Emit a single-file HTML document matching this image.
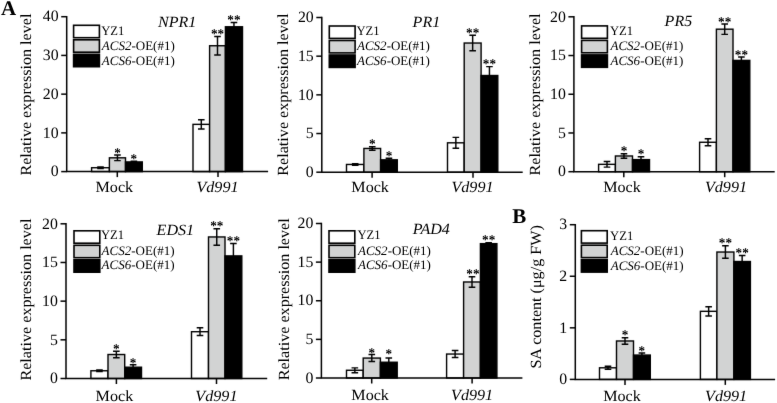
<!DOCTYPE html>
<html><head><meta charset="utf-8"><title>Figure</title>
<style>
html,body{margin:0;padding:0;background:#fff;}
svg{display:block;}
text{font-family:"Liberation Serif", "DejaVu Serif", serif;fill:#000;text-rendering:geometricPrecision;}
.st{font-weight:bold;}
.pl{font-weight:bold;}
</style></head><body>
<svg width="777" height="403" viewBox="0 0 777 403">
<defs><filter id="soft" color-interpolation-filters="sRGB" x="0" y="0" width="777" height="403" filterUnits="userSpaceOnUse"><feConvolveMatrix order="3" kernelMatrix="0.0052 0.0619 0.0052 0.0619 0.7314 0.0619 0.0052 0.0619 0.0052" edgeMode="duplicate" preserveAlpha="true"/></filter><filter id="softt" color-interpolation-filters="sRGB" x="0" y="0" width="777" height="403" filterUnits="userSpaceOnUse"><feConvolveMatrix order="3" kernelMatrix="0.0028 0.0470 0.0028 0.0470 0.8008 0.0470 0.0028 0.0470 0.0028" edgeMode="none" preserveAlpha="false"/></filter></defs>
<rect width="777" height="403" fill="#fff"/>
<g filter="url(#soft)">
<rect width="777" height="403" fill="#fff"/>
<rect x="91.6" y="167.73" width="17.8" height="3.87" fill="#ffffff" stroke="#000" stroke-width="1.4"/>
<rect x="109.4" y="157.81" width="16.1" height="13.79" fill="#d2d3d3" stroke="#000" stroke-width="1.4"/>
<rect x="125.5" y="161.92" width="16.8" height="9.68" fill="#000000" stroke="#000" stroke-width="1.4"/>
<path d="M100.5 168.5V166.95M97.2 166.95H103.8M97.2 168.5H103.8" stroke="#000" stroke-width="1.45" fill="none"/>
<path d="M117.45 160.64V154.99M114.15 154.99H120.75M114.15 160.64H120.75" stroke="#000" stroke-width="1.45" fill="none"/>
<path d="M133.9 161.92V161.34M130.6 161.34H137.2" stroke="#000" stroke-width="1.45" fill="none"/>
<path d="M117.3 171.6v5.5" stroke="#000" stroke-width="1.5"/>
<rect x="193" y="124.36" width="16.6" height="47.24" fill="#ffffff" stroke="#000" stroke-width="1.4"/>
<rect x="209.6" y="45.74" width="15.8" height="125.86" fill="#d2d3d3" stroke="#000" stroke-width="1.4"/>
<rect x="225.4" y="26.77" width="17.1" height="144.83" fill="#000000" stroke="#000" stroke-width="1.4"/>
<path d="M201.3 129V119.71M198 119.71H204.6M198 129H204.6" stroke="#000" stroke-width="1.45" fill="none"/>
<path d="M217.5 55.04V36.45M214.2 36.45H220.8M214.2 55.04H220.8" stroke="#000" stroke-width="1.45" fill="none"/>
<path d="M233.95 26.77V22.51M230.65 22.51H237.25" stroke="#000" stroke-width="1.45" fill="none"/>
<path d="M218 171.6v5.5" stroke="#000" stroke-width="1.5"/>
<path d="M66.7 15.95V171.6H268.1" stroke="#000" stroke-width="1.5" fill="none"/>
<path d="M61.2 171.6H66.7" stroke="#000" stroke-width="1.5"/>
<path d="M61.2 132.88H66.7" stroke="#000" stroke-width="1.5"/>
<path d="M61.2 94.15H66.7" stroke="#000" stroke-width="1.5"/>
<path d="M61.2 55.42H66.7" stroke="#000" stroke-width="1.5"/>
<path d="M61.2 16.7H66.7" stroke="#000" stroke-width="1.5"/>
<rect x="73.6" y="25.3" width="25.8" height="12.4" fill="#ffffff" stroke="#000" stroke-width="1.6"/>
<rect x="73.6" y="39.8" width="25.8" height="12.4" fill="#d2d3d3" stroke="#000" stroke-width="1.6"/>
<rect x="73.6" y="54.3" width="25.8" height="12.4" fill="#000000" stroke="#000" stroke-width="1.6"/>
<rect x="346.5" y="164.46" width="17.4" height="7.74" fill="#ffffff" stroke="#000" stroke-width="1.4"/>
<rect x="363.9" y="148.45" width="16.7" height="23.75" fill="#d2d3d3" stroke="#000" stroke-width="1.4"/>
<rect x="380.6" y="159.82" width="16.7" height="12.38" fill="#000000" stroke="#000" stroke-width="1.4"/>
<path d="M355.2 165.24V163.69M351.9 163.69H358.5M351.9 165.24H358.5" stroke="#000" stroke-width="1.45" fill="none"/>
<path d="M372.25 150.16V146.75M368.95 146.75H375.55M368.95 150.16H375.55" stroke="#000" stroke-width="1.45" fill="none"/>
<path d="M388.95 159.82V158.28M385.65 158.28H392.25" stroke="#000" stroke-width="1.45" fill="none"/>
<path d="M372.1 172.2v5.5" stroke="#000" stroke-width="1.5"/>
<rect x="447.5" y="142.81" width="16.7" height="29.39" fill="#ffffff" stroke="#000" stroke-width="1.4"/>
<rect x="464.2" y="43.03" width="16.9" height="129.17" fill="#d2d3d3" stroke="#000" stroke-width="1.4"/>
<rect x="481.1" y="75.51" width="16.7" height="96.69" fill="#000000" stroke="#000" stroke-width="1.4"/>
<path d="M455.85 148.22V137.39M452.55 137.39H459.15M452.55 148.22H459.15" stroke="#000" stroke-width="1.45" fill="none"/>
<path d="M472.65 50.76V35.29M469.35 35.29H475.95M469.35 50.76H475.95" stroke="#000" stroke-width="1.45" fill="none"/>
<path d="M489.45 75.51V66.62M486.15 66.62H492.75" stroke="#000" stroke-width="1.45" fill="none"/>
<path d="M473 172.2v5.5" stroke="#000" stroke-width="1.5"/>
<path d="M321.8 16.75V172.2H522.7" stroke="#000" stroke-width="1.5" fill="none"/>
<path d="M316.3 172.2H321.8" stroke="#000" stroke-width="1.5"/>
<path d="M316.3 133.52H321.8" stroke="#000" stroke-width="1.5"/>
<path d="M316.3 94.85H321.8" stroke="#000" stroke-width="1.5"/>
<path d="M316.3 56.17H321.8" stroke="#000" stroke-width="1.5"/>
<path d="M316.3 17.5H321.8" stroke="#000" stroke-width="1.5"/>
<rect x="329.3" y="26" width="25.8" height="12.4" fill="#ffffff" stroke="#000" stroke-width="1.6"/>
<rect x="329.3" y="40.5" width="25.8" height="12.4" fill="#d2d3d3" stroke="#000" stroke-width="1.6"/>
<rect x="329.3" y="55" width="25.8" height="12.4" fill="#000000" stroke="#000" stroke-width="1.6"/>
<rect x="598.6" y="164.34" width="16.8" height="7.36" fill="#ffffff" stroke="#000" stroke-width="1.4"/>
<rect x="615.4" y="155.98" width="17.1" height="15.72" fill="#d2d3d3" stroke="#000" stroke-width="1.4"/>
<rect x="632.5" y="159.62" width="17" height="12.08" fill="#000000" stroke="#000" stroke-width="1.4"/>
<path d="M607 167.13V161.55M603.7 161.55H610.3M603.7 167.13H610.3" stroke="#000" stroke-width="1.45" fill="none"/>
<path d="M623.95 158.22V153.73M620.65 153.73H627.25M620.65 158.22H627.25" stroke="#000" stroke-width="1.45" fill="none"/>
<path d="M641 159.62V156.83M637.7 156.83H644.3" stroke="#000" stroke-width="1.45" fill="none"/>
<path d="M623.8 171.7v5.5" stroke="#000" stroke-width="1.5"/>
<rect x="699.6" y="142.27" width="16.8" height="29.43" fill="#ffffff" stroke="#000" stroke-width="1.4"/>
<rect x="716.4" y="29.19" width="16.6" height="142.51" fill="#d2d3d3" stroke="#000" stroke-width="1.4"/>
<rect x="733" y="60.4" width="16.8" height="111.3" fill="#000000" stroke="#000" stroke-width="1.4"/>
<path d="M708 145.75V138.78M704.7 138.78H711.3M704.7 145.75H711.3" stroke="#000" stroke-width="1.45" fill="none"/>
<path d="M724.7 34.38V24M721.4 24H728M721.4 34.38H728" stroke="#000" stroke-width="1.45" fill="none"/>
<path d="M741.4 60.4V57M738.1 57H744.7" stroke="#000" stroke-width="1.45" fill="none"/>
<path d="M724.7 171.7v5.5" stroke="#000" stroke-width="1.5"/>
<path d="M573.9 16.05V171.7H774.7" stroke="#000" stroke-width="1.5" fill="none"/>
<path d="M568.4 171.7H573.9" stroke="#000" stroke-width="1.5"/>
<path d="M568.4 132.97H573.9" stroke="#000" stroke-width="1.5"/>
<path d="M568.4 94.25H573.9" stroke="#000" stroke-width="1.5"/>
<path d="M568.4 55.53H573.9" stroke="#000" stroke-width="1.5"/>
<path d="M568.4 16.8H573.9" stroke="#000" stroke-width="1.5"/>
<rect x="581.6" y="25.9" width="25.8" height="12.4" fill="#ffffff" stroke="#000" stroke-width="1.6"/>
<rect x="581.6" y="40.4" width="25.8" height="12.4" fill="#d2d3d3" stroke="#000" stroke-width="1.6"/>
<rect x="581.6" y="54.9" width="25.8" height="12.4" fill="#000000" stroke="#000" stroke-width="1.6"/>
<rect x="90.9" y="370.76" width="17.1" height="7.74" fill="#ffffff" stroke="#000" stroke-width="1.4"/>
<rect x="108" y="354.52" width="16.7" height="23.98" fill="#d2d3d3" stroke="#000" stroke-width="1.4"/>
<rect x="124.7" y="367.21" width="16.8" height="11.29" fill="#000000" stroke="#000" stroke-width="1.4"/>
<path d="M99.45 371.54V369.99M96.15 369.99H102.75M96.15 371.54H102.75" stroke="#000" stroke-width="1.45" fill="none"/>
<path d="M116.35 357.77V351.27M113.05 351.27H119.65M113.05 357.77H119.65" stroke="#000" stroke-width="1.45" fill="none"/>
<path d="M133.1 367.21V364.81M129.8 364.81H136.4" stroke="#000" stroke-width="1.45" fill="none"/>
<path d="M116.4 378.5v5.5" stroke="#000" stroke-width="1.5"/>
<rect x="191.5" y="331.7" width="17" height="46.8" fill="#ffffff" stroke="#000" stroke-width="1.4"/>
<rect x="208.5" y="236.95" width="16.5" height="141.55" fill="#d2d3d3" stroke="#000" stroke-width="1.4"/>
<rect x="225" y="255.9" width="16.8" height="122.6" fill="#000000" stroke="#000" stroke-width="1.4"/>
<path d="M200 335.57V327.84M196.7 327.84H203.3M196.7 335.57H203.3" stroke="#000" stroke-width="1.45" fill="none"/>
<path d="M216.75 245.23V228.67M213.45 228.67H220.05M213.45 245.23H220.05" stroke="#000" stroke-width="1.45" fill="none"/>
<path d="M233.4 255.9V243.52M230.1 243.52H236.7" stroke="#000" stroke-width="1.45" fill="none"/>
<path d="M216.5 378.5v5.5" stroke="#000" stroke-width="1.5"/>
<path d="M66 223.05V378.5H267.2" stroke="#000" stroke-width="1.5" fill="none"/>
<path d="M60.5 378.5H66" stroke="#000" stroke-width="1.5"/>
<path d="M60.5 339.82H66" stroke="#000" stroke-width="1.5"/>
<path d="M60.5 301.15H66" stroke="#000" stroke-width="1.5"/>
<path d="M60.5 262.48H66" stroke="#000" stroke-width="1.5"/>
<path d="M60.5 223.8H66" stroke="#000" stroke-width="1.5"/>
<rect x="74" y="230.8" width="25.8" height="12.4" fill="#ffffff" stroke="#000" stroke-width="1.6"/>
<rect x="74" y="245.3" width="25.8" height="12.4" fill="#d2d3d3" stroke="#000" stroke-width="1.6"/>
<rect x="74" y="259.8" width="25.8" height="12.4" fill="#000000" stroke="#000" stroke-width="1.6"/>
<rect x="346.5" y="370.27" width="16.7" height="7.73" fill="#ffffff" stroke="#000" stroke-width="1.4"/>
<rect x="363.2" y="358.07" width="17.2" height="19.93" fill="#d2d3d3" stroke="#000" stroke-width="1.4"/>
<rect x="380.4" y="362.24" width="16.8" height="15.76" fill="#000000" stroke="#000" stroke-width="1.4"/>
<path d="M354.85 372.67V367.88M351.55 367.88H358.15M351.55 372.67H358.15" stroke="#000" stroke-width="1.45" fill="none"/>
<path d="M371.8 361.55V354.59M368.5 354.59H375.1M368.5 361.55H375.1" stroke="#000" stroke-width="1.45" fill="none"/>
<path d="M388.8 362.24V357.99M385.5 357.99H392.1" stroke="#000" stroke-width="1.45" fill="none"/>
<path d="M371.7 378v5.5" stroke="#000" stroke-width="1.5"/>
<rect x="446.6" y="354.05" width="17" height="23.95" fill="#ffffff" stroke="#000" stroke-width="1.4"/>
<rect x="463.6" y="281.98" width="16.8" height="96.02" fill="#d2d3d3" stroke="#000" stroke-width="1.4"/>
<rect x="480.4" y="243.66" width="16.5" height="134.34" fill="#000000" stroke="#000" stroke-width="1.4"/>
<path d="M455.1 357.53V350.58M451.8 350.58H458.4M451.8 357.53H458.4" stroke="#000" stroke-width="1.45" fill="none"/>
<path d="M472 287.15V276.8M468.7 276.8H475.3M468.7 287.15H475.3" stroke="#000" stroke-width="1.45" fill="none"/>
<path d="M488.65 243.66V242.74M485.35 242.74H491.95" stroke="#000" stroke-width="1.45" fill="none"/>
<path d="M472.1 378v5.5" stroke="#000" stroke-width="1.5"/>
<path d="M321.4 222.75V378H522.4" stroke="#000" stroke-width="1.5" fill="none"/>
<path d="M315.9 378H321.4" stroke="#000" stroke-width="1.5"/>
<path d="M315.9 339.38H321.4" stroke="#000" stroke-width="1.5"/>
<path d="M315.9 300.75H321.4" stroke="#000" stroke-width="1.5"/>
<path d="M315.9 262.12H321.4" stroke="#000" stroke-width="1.5"/>
<path d="M315.9 223.5H321.4" stroke="#000" stroke-width="1.5"/>
<rect x="329" y="230.8" width="25.8" height="12.4" fill="#ffffff" stroke="#000" stroke-width="1.6"/>
<rect x="329" y="245.3" width="25.8" height="12.4" fill="#d2d3d3" stroke="#000" stroke-width="1.6"/>
<rect x="329" y="259.8" width="25.8" height="12.4" fill="#000000" stroke="#000" stroke-width="1.6"/>
<rect x="599.5" y="367.8" width="17" height="11.6" fill="#ffffff" stroke="#000" stroke-width="1.4"/>
<rect x="616.5" y="340.98" width="17" height="38.42" fill="#d2d3d3" stroke="#000" stroke-width="1.4"/>
<rect x="633.5" y="355.06" width="16.8" height="24.34" fill="#000000" stroke="#000" stroke-width="1.4"/>
<path d="M608 369.34V366.25M604.7 366.25H611.3M604.7 369.34H611.3" stroke="#000" stroke-width="1.45" fill="none"/>
<path d="M625 344.23V337.73M621.7 337.73H628.3M621.7 344.23H628.3" stroke="#000" stroke-width="1.45" fill="none"/>
<path d="M641.9 355.06V353M638.6 353H645.2" stroke="#000" stroke-width="1.45" fill="none"/>
<path d="M625 379.4v5.5" stroke="#000" stroke-width="1.5"/>
<rect x="700.4" y="311.33" width="16.5" height="68.07" fill="#ffffff" stroke="#000" stroke-width="1.4"/>
<rect x="716.9" y="252.03" width="17" height="127.37" fill="#d2d3d3" stroke="#000" stroke-width="1.4"/>
<rect x="733.9" y="261.52" width="16.5" height="117.88" fill="#000000" stroke="#000" stroke-width="1.4"/>
<path d="M708.65 315.97V306.69M705.35 306.69H711.95M705.35 315.97H711.95" stroke="#000" stroke-width="1.45" fill="none"/>
<path d="M725.4 258.22V245.84M722.1 245.84H728.7M722.1 258.22H728.7" stroke="#000" stroke-width="1.45" fill="none"/>
<path d="M742.15 261.52V255.59M738.85 255.59H745.45" stroke="#000" stroke-width="1.45" fill="none"/>
<path d="M725.3 379.4v5.5" stroke="#000" stroke-width="1.5"/>
<path d="M575.3 223.95V379.4H775.1" stroke="#000" stroke-width="1.5" fill="none"/>
<path d="M569.8 379.4H575.3" stroke="#000" stroke-width="1.5"/>
<path d="M569.8 327.83H575.3" stroke="#000" stroke-width="1.5"/>
<path d="M569.8 276.27H575.3" stroke="#000" stroke-width="1.5"/>
<path d="M569.8 224.7H575.3" stroke="#000" stroke-width="1.5"/>
<rect x="581.4" y="230.7" width="25.8" height="12.4" fill="#ffffff" stroke="#000" stroke-width="1.6"/>
<rect x="581.4" y="245.2" width="25.8" height="12.4" fill="#d2d3d3" stroke="#000" stroke-width="1.6"/>
<rect x="581.4" y="259.7" width="25.8" height="12.4" fill="#000000" stroke="#000" stroke-width="1.6"/>
</g>
<g filter="url(#softt)">
<text x="0.9" y="14.6" font-size="21" class="pl">A</text>
<text x="512.2" y="223" font-size="21" class="pl">B</text>
<text transform="translate(117.45 157.08)" font-size="13.2" text-anchor="middle" class="st">*</text>
<text transform="translate(133.9 162.93)" font-size="13.2" text-anchor="middle" class="st">*</text>
<text transform="translate(114.3 192.3) scale(1.04 1)" font-size="15.5" text-anchor="middle">Mock</text>
<text transform="translate(217.5 38.04)" font-size="13.2" text-anchor="middle" class="st">**</text>
<text transform="translate(233.95 24.1)" font-size="13.2" text-anchor="middle" class="st">**</text>
<text transform="translate(217.5 192.3) scale(1.04 1)" font-size="15.5" text-anchor="middle" font-style="italic">Vd991</text>
<text transform="translate(58.6 176.3)" font-size="15.8" text-anchor="end">0</text>
<text transform="translate(58.6 137.57)" font-size="15.8" text-anchor="end">10</text>
<text transform="translate(58.6 98.85)" font-size="15.8" text-anchor="end">20</text>
<text transform="translate(58.6 60.12)" font-size="15.8" text-anchor="end">30</text>
<text transform="translate(58.6 21.4)" font-size="15.8" text-anchor="end">40</text>
<text transform="translate(31 94.6) rotate(-90) scale(1.04 1)" font-size="15.5" text-anchor="middle">Relative expression level</text>
<text transform="translate(177.1 27) scale(1.03 1)" font-size="15.6" text-anchor="middle" font-style="italic">NPR1</text>
<text transform="translate(101.2 35) scale(0.97 1)" font-size="13.0">YZ1</text>
<text transform="translate(101.8 50.3)" font-size="13.0"><tspan font-style="italic">ACS2</tspan>-OE(#1)</text>
<text transform="translate(101.8 64.6)" font-size="13.0"><tspan font-style="italic">ACS6</tspan>-OE(#1)</text>
<text transform="translate(372.25 148.34)" font-size="13.2" text-anchor="middle" class="st">*</text>
<text transform="translate(388.95 159.87)" font-size="13.2" text-anchor="middle" class="st">*</text>
<text transform="translate(370.1 192.3) scale(1.04 1)" font-size="15.5" text-anchor="middle">Mock</text>
<text transform="translate(472.65 36.88)" font-size="13.2" text-anchor="middle" class="st">**</text>
<text transform="translate(489.45 68.21)" font-size="13.2" text-anchor="middle" class="st">**</text>
<text transform="translate(472.5 192.3) scale(1.04 1)" font-size="15.5" text-anchor="middle" font-style="italic">Vd991</text>
<text transform="translate(313.7 176.9)" font-size="15.8" text-anchor="end">0</text>
<text transform="translate(313.7 138.22)" font-size="15.8" text-anchor="end">5</text>
<text transform="translate(313.7 99.55)" font-size="15.8" text-anchor="end">10</text>
<text transform="translate(313.7 60.88)" font-size="15.8" text-anchor="end">15</text>
<text transform="translate(313.7 22.2)" font-size="15.8" text-anchor="end">20</text>
<text transform="translate(288.3 94.65) rotate(-90) scale(1.04 1)" font-size="15.5" text-anchor="middle">Relative expression level</text>
<text transform="translate(426.4 26.6) scale(1.03 1)" font-size="15.6" text-anchor="middle" font-style="italic">PR1</text>
<text transform="translate(356.4 35) scale(0.97 1)" font-size="13.0">YZ1</text>
<text transform="translate(357 50.3)" font-size="13.0"><tspan font-style="italic">ACS2</tspan>-OE(#1)</text>
<text transform="translate(357 64.6)" font-size="13.0"><tspan font-style="italic">ACS6</tspan>-OE(#1)</text>
<text transform="translate(623.95 155.32)" font-size="13.2" text-anchor="middle" class="st">*</text>
<text transform="translate(641 158.42)" font-size="13.2" text-anchor="middle" class="st">*</text>
<text transform="translate(622 192.3) scale(1.04 1)" font-size="15.5" text-anchor="middle">Mock</text>
<text transform="translate(724.7 25.6)" font-size="13.2" text-anchor="middle" class="st">**</text>
<text transform="translate(741.4 58.59)" font-size="13.2" text-anchor="middle" class="st">**</text>
<text transform="translate(726 192.3) scale(1.04 1)" font-size="15.5" text-anchor="middle" font-style="italic">Vd991</text>
<text transform="translate(565.8 176.4)" font-size="15.8" text-anchor="end">0</text>
<text transform="translate(565.8 137.67)" font-size="15.8" text-anchor="end">5</text>
<text transform="translate(565.8 98.95)" font-size="15.8" text-anchor="end">10</text>
<text transform="translate(565.8 60.23)" font-size="15.8" text-anchor="end">15</text>
<text transform="translate(565.8 21.5)" font-size="15.8" text-anchor="end">20</text>
<text transform="translate(540.3 94.5) rotate(-90) scale(1.04 1)" font-size="15.5" text-anchor="middle">Relative expression level</text>
<text transform="translate(678.4 26.3) scale(1.03 1)" font-size="15.6" text-anchor="middle" font-style="italic">PR5</text>
<text transform="translate(609.9 35) scale(0.97 1)" font-size="13.0">YZ1</text>
<text transform="translate(610.5 50.3)" font-size="13.0"><tspan font-style="italic">ACS2</tspan>-OE(#1)</text>
<text transform="translate(610.5 64.6)" font-size="13.0"><tspan font-style="italic">ACS6</tspan>-OE(#1)</text>
<text transform="translate(116.35 352.87)" font-size="13.2" text-anchor="middle" class="st">*</text>
<text transform="translate(133.1 367.2)" font-size="13.2" text-anchor="middle" class="st">*</text>
<text transform="translate(114.4 400.9) scale(1.04 1)" font-size="15.5" text-anchor="middle">Mock</text>
<text transform="translate(216.75 230.27)" font-size="13.2" text-anchor="middle" class="st">**</text>
<text transform="translate(233.4 245.12)" font-size="13.2" text-anchor="middle" class="st">**</text>
<text transform="translate(216.4 400.9) scale(1.04 1)" font-size="15.5" text-anchor="middle" font-style="italic">Vd991</text>
<text transform="translate(57.9 383.2)" font-size="15.8" text-anchor="end">0</text>
<text transform="translate(57.9 344.52)" font-size="15.8" text-anchor="end">5</text>
<text transform="translate(57.9 305.85)" font-size="15.8" text-anchor="end">10</text>
<text transform="translate(57.9 267.18)" font-size="15.8" text-anchor="end">15</text>
<text transform="translate(57.9 228.5)" font-size="15.8" text-anchor="end">20</text>
<text transform="translate(30.5 299.55) rotate(-90) scale(1.04 1)" font-size="15.5" text-anchor="middle">Relative expression level</text>
<text transform="translate(175.3 234.7) scale(1.03 1)" font-size="15.6" text-anchor="middle" font-style="italic">EDS1</text>
<text transform="translate(101 239.3) scale(0.97 1)" font-size="13.0">YZ1</text>
<text transform="translate(101.6 254.6)" font-size="13.0"><tspan font-style="italic">ACS2</tspan>-OE(#1)</text>
<text transform="translate(101.6 268.9)" font-size="13.0"><tspan font-style="italic">ACS6</tspan>-OE(#1)</text>
<text transform="translate(371.8 356.59)" font-size="13.2" text-anchor="middle" class="st">*</text>
<text transform="translate(388.8 358.29)" font-size="13.2" text-anchor="middle" class="st">*</text>
<text transform="translate(370.1 400.3) scale(1.04 1)" font-size="15.5" text-anchor="middle">Mock</text>
<text transform="translate(472.9 278.4)" font-size="13.2" text-anchor="middle" class="st">**</text>
<text transform="translate(488.65 244.33)" font-size="13.2" text-anchor="middle" class="st">**</text>
<text transform="translate(472.1 400.3) scale(1.04 1)" font-size="15.5" text-anchor="middle" font-style="italic">Vd991</text>
<text transform="translate(313.3 382.7)" font-size="15.8" text-anchor="end">0</text>
<text transform="translate(313.3 344.07)" font-size="15.8" text-anchor="end">5</text>
<text transform="translate(313.3 305.45)" font-size="15.8" text-anchor="end">10</text>
<text transform="translate(313.3 266.82)" font-size="15.8" text-anchor="end">15</text>
<text transform="translate(313.3 228.2)" font-size="15.8" text-anchor="end">20</text>
<text transform="translate(288.8 299.3) rotate(-90) scale(1.04 1)" font-size="15.5" text-anchor="middle">Relative expression level</text>
<text transform="translate(431.25 234) scale(1.03 1)" font-size="15.6" text-anchor="middle" font-style="italic">PAD4</text>
<text transform="translate(357.4 239.3) scale(0.97 1)" font-size="13.0">YZ1</text>
<text transform="translate(358 254.6)" font-size="13.0"><tspan font-style="italic">ACS2</tspan>-OE(#1)</text>
<text transform="translate(358 268.9)" font-size="13.0"><tspan font-style="italic">ACS6</tspan>-OE(#1)</text>
<text transform="translate(625 339.33)" font-size="13.2" text-anchor="middle" class="st">*</text>
<text transform="translate(641.9 354.59)" font-size="13.2" text-anchor="middle" class="st">*</text>
<text transform="translate(622 401) scale(1.04 1)" font-size="15.5" text-anchor="middle">Mock</text>
<text transform="translate(725.4 247.44)" font-size="13.2" text-anchor="middle" class="st">**</text>
<text transform="translate(742.15 257.18)" font-size="13.2" text-anchor="middle" class="st">**</text>
<text transform="translate(726.1 401) scale(1.04 1)" font-size="15.5" text-anchor="middle" font-style="italic">Vd991</text>
<text transform="translate(567.2 384.1)" font-size="15.8" text-anchor="end">0</text>
<text transform="translate(567.2 332.53)" font-size="15.8" text-anchor="end">1</text>
<text transform="translate(567.2 280.97)" font-size="15.8" text-anchor="end">2</text>
<text transform="translate(567.2 229.4)" font-size="15.8" text-anchor="end">3</text>
<text transform="translate(540.6 296.9) rotate(-90) scale(1.04 1)" font-size="15.5" text-anchor="middle">SA content (μg/g FW)</text>
<text transform="translate(610.1 240) scale(0.97 1)" font-size="13.0">YZ1</text>
<text transform="translate(610.7 255.3)" font-size="13.0"><tspan font-style="italic">ACS2</tspan>-OE(#1)</text>
<text transform="translate(610.7 269.6)" font-size="13.0"><tspan font-style="italic">ACS6</tspan>-OE(#1)</text>
</g>
</svg>
</body></html>
